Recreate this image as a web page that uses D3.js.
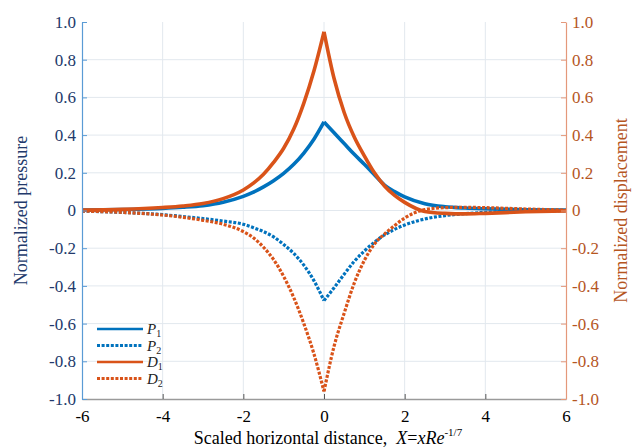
<!DOCTYPE html>
<html lang="en">
<head>
<meta charset="UTF-8">
<title>Normalized pressure and displacement</title>
<script src="https://d3js.org/d3.v7.min.js"></script>
<style>
    body { margin: 0; background: #fff; }
    svg, svg text, svg tspan { font-family: "Liberation Serif", "DejaVu Serif", serif !important; }
</style>
</head>
<body>
<div id="chart"></div>
<script>
// sample positions along X
const xs = [-6, -5, -4, -3.5, -3, -2.5, -2, -1.75, -1.5, -1.25, -1, -0.75, -0.5, -0.25, 0,
            0.25, 0.5, 0.75, 1, 1.25, 1.5, 1.75, 2, 2.5, 3, 3.5, 4, 5, 6];

// values
const p1 = [0.002, 0.005, 0.011, 0.017, 0.026, 0.044, 0.075, 0.097, 0.125, 0.158, 0.197, 0.245, 0.305, 0.378, 0.47,
            0.412, 0.355, 0.298, 0.245, 0.19, 0.135, 0.1, 0.072, 0.036, 0.02, 0.013, 0.009, 0.004, 0.002];
const p2 = [-0.003, -0.01, -0.022, -0.032, -0.043, -0.056, -0.073, -0.091, -0.112, -0.14, -0.18, -0.228, -0.29, -0.372, -0.478,
            -0.41, -0.338, -0.27, -0.215, -0.168, -0.13, -0.1, -0.077, -0.045, -0.027, -0.017, -0.01, -0.004, -0.001];
const d1 = [0.002, 0.006, 0.016, 0.024, 0.037, 0.063, 0.109, 0.145, 0.192, 0.255, 0.33, 0.432, 0.57, 0.74, 0.948,
            0.7, 0.52, 0.39, 0.29, 0.2, 0.13, 0.08, 0.043, -0.005, -0.015, -0.018, -0.015, -0.007, -0.002];
const d2 = [-0.003, -0.01, -0.024, -0.036, -0.052, -0.073, -0.112, -0.145, -0.195, -0.26, -0.35, -0.462, -0.6, -0.76, -0.96,
            -0.72, -0.545, -0.385, -0.265, -0.178, -0.125, -0.08, -0.04, 0.005, 0.015, 0.017, 0.015, 0.008, 0.002];

const xTicks = [-6, -4, -2, 0, 2, 4, 6];
const yTicks = [-1.0, -0.8, -0.6, -0.4, -0.2, 0, 0.2, 0.4, 0.6, 0.8, 1.0];

const series = [
    { name: "P", sub: "1", values: p1, color: "#0072BD", dash: null },
    { name: "P", sub: "2", values: p2, color: "#0072BD", dash: "3,1.6" },
    { name: "D", sub: "1", values: d1, color: "#D95319", dash: null },
    { name: "D", sub: "2", values: d2, color: "#D95319", dash: "3,1.6" }
];

const width = 641, height = 448;
const margin = { top: 22, right: 75, bottom: 49, left: 82 };

const svg = d3.select("#chart").append("svg")
    .attr("width", width)
    .attr("height", height)
    .attr("font-family", "Liberation Serif");

const x = d3.scaleLinear().domain([-6, 6]).range([margin.left, width - margin.right]);
const y = d3.scaleLinear().domain([-1, 1]).range([height - margin.bottom, margin.top]);

// plain hyphen for negatives, like the original
const fmtY = d => d === 0 ? "0" : d.toFixed(1);
const fmtX = d => String(d);

// grid
svg.append("g")
    .selectAll("line")
    .data(xTicks.slice(1, -1))
    .join("line")
    .attr("x1", d => x(d)).attr("x2", d => x(d))
    .attr("y1", y(1)).attr("y2", y(-1))
    .attr("stroke", "#e2e8ee").attr("stroke-width", 1);
svg.append("g")
    .selectAll("line")
    .data(yTicks.slice(1, -1))
    .join("line")
    .attr("x1", x(-6)).attr("x2", x(6))
    .attr("y1", d => y(d)).attr("y2", d => y(d))
    .attr("stroke", "#e2e8ee").attr("stroke-width", 1);

// curves, each half drawn on its own so the peak stays sharp
const line = d3.line()
    .x(d => x(d[0]))
    .y(d => y(d[1]))
    .curve(d3.curveMonotoneX);

const mid = xs.indexOf(0);
series.forEach(s => {
    const pts = xs.map((v, i) => [v, s.values[i]]);
    [pts.slice(0, mid + 1), pts.slice(mid)].forEach(part => {
        svg.append("path")
            .attr("d", line(part))
            .attr("fill", "none")
            .attr("stroke", s.color)
            .attr("stroke-width", s.dash ? 3.2 : 3.6)
            .attr("stroke-dasharray", s.dash);
    });
});

// bottom axis
const xAxis = svg.append("g")
    .attr("transform", `translate(0,${y(-1)})`)
    .call(d3.axisBottom(x).tickValues(xTicks).tickSizeInner(-5).tickSizeOuter(0).tickPadding(11).tickFormat(fmtX));
xAxis.attr("font-family", null).attr("font-size", null);
xAxis.select(".domain").attr("stroke", "#9a9a9a").attr("stroke-width", 1.6);
xAxis.selectAll(".tick line").attr("stroke", "#555");
xAxis.selectAll("text").attr("fill", "#000").style("font-size", "17px");

// left axis
const yLeft = svg.append("g")
    .attr("transform", `translate(${x(-6)},0)`)
    .call(d3.axisLeft(y).tickValues(yTicks).tickSizeInner(-5).tickSizeOuter(0).tickPadding(6).tickFormat(fmtY));
yLeft.attr("font-family", null).attr("font-size", null);
yLeft.select(".domain").attr("stroke", "#5a9bd5").attr("stroke-width", 1.2);
yLeft.selectAll(".tick line").attr("stroke", "#5a9bd5");
yLeft.selectAll("text").attr("fill", "#22396b").style("font-size", "17px");

// right axis
const yRight = svg.append("g")
    .attr("transform", `translate(${x(6)},0)`)
    .call(d3.axisRight(y).tickValues(yTicks).tickSizeInner(-5).tickSizeOuter(0).tickPadding(6).tickFormat(fmtY));
yRight.attr("font-family", null).attr("font-size", null);
yRight.select(".domain").attr("stroke", "#e4987a").attr("stroke-width", 1.2);
yRight.selectAll(".tick line").attr("stroke", "#e4987a");
yRight.selectAll("text").attr("fill", "#b5561f").style("font-size", "17px");

// axis titles
svg.append("text")
    .attr("transform", `translate(27,${y(0)}) rotate(-90)`)
    .attr("text-anchor", "middle")
    .style("font-size", "18px")
    .attr("fill", "#22396b")
    .text("Normalized pressure");

svg.append("text")
    .attr("transform", `translate(627,${y(0)}) rotate(-90)`)
    .attr("text-anchor", "middle")
    .style("font-size", "18px")
    .attr("fill", "#b5561f")
    .text("Normalized displacement");

const xt = svg.append("text")
    .attr("x", 328)
    .attr("y", 444)
    .attr("text-anchor", "middle")
    .style("font-size", "18px")
    .attr("fill", "#000");
xt.append("tspan").text("Scaled horizontal distance,\u00a0\u00a0");
xt.append("tspan").attr("font-style", "italic").text("X");
xt.append("tspan").text("=");
xt.append("tspan").attr("font-style", "italic").text("xRe");
xt.append("tspan").style("font-size", "11px").attr("dy", -8).text("-1/7");

// legend
const legend = svg.append("g");
series.forEach((s, i) => {
    const ly = 329 + i * 16.5;
    legend.append("line")
        .attr("x1", 97).attr("x2", 143)
        .attr("y1", ly).attr("y2", ly)
        .attr("stroke", s.color)
        .attr("stroke-width", s.dash ? 3 : 2.4)
        .attr("stroke-dasharray", s.dash);
    const t = legend.append("text")
        .attr("x", 147).attr("y", ly + 5)
        .style("font-size", "15px")
        .attr("fill", "#222");
    t.append("tspan").attr("font-style", "italic").text(s.name);
    t.append("tspan").style("font-size", "10px").attr("dy", 3).text(s.sub);
});
</script>
</body>
</html>
